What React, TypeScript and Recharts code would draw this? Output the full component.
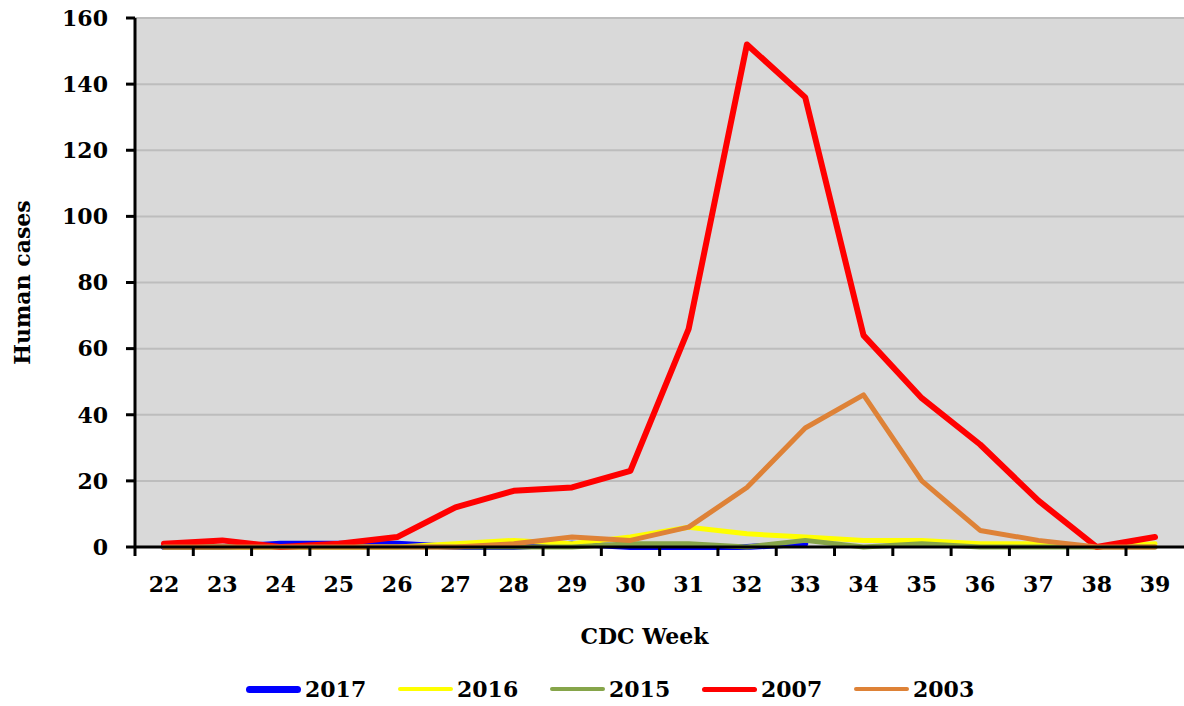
import React from 'react';
import { LineChart, Line, XAxis, YAxis, CartesianGrid, Legend } from 'recharts';

document.body.style.margin = '0';

const weeks = ['22', '23', '24', '25', '26', '27', '28', '29', '30', '31', '32', '33', '34', '35', '36', '37', '38', '39'];
const cases2017 = [0, 0, 1, 1, 1, 0, 0, 1, 0, 0, 0, 1];
const cases2016 = [0, 0, 0, 0, 0, 1, 2, 1, 3, 6, 4, 3, 2, 2, 1, 1, 0, 1];
const cases2015 = [0, 0, 0, 0, 0, 0, 0, 0, 1, 1, 0, 2, 0, 1, 0, 0, 0, 0];
const cases2007 = [1, 2, 0, 1, 3, 12, 17, 18, 23, 66, 152, 136, 64, 45, 31, 14, 0, 3];
const cases2003 = [0, 0, 0, 0, 0, 0, 1, 3, 2, 6, 18, 36, 46, 20, 5, 2, 0, 0];
const yTicks = [0, 20, 40, 60, 80, 100, 120, 140, 160];

const series = [
    { key: 'y2017', name: '2017', color: '#0000ff', width: 6, legendWidth: 7 },
    { key: 'y2016', name: '2016', color: '#ffff00', width: 5, legendWidth: 4 },
    { key: 'y2015', name: '2015', color: '#86a54a', width: 5, legendWidth: 4 },
    { key: 'y2007', name: '2007', color: '#ff0000', width: 6, legendWidth: 5 },
    { key: 'y2003', name: '2003', color: '#de8237', width: 5, legendWidth: 4 },
];

const data = weeks.map((w, i) => ({
    week: w,
    y2017: cases2017[i],
    y2016: cases2016[i],
    y2015: cases2015[i],
    y2007: cases2007[i],
    y2003: cases2003[i],
}));

const FONT = '"DejaVu Serif", serif';
const HALF_STEP = 29; // half the distance between two weeks, ticks sit between labels

// eslint-disable-next-line @typescript-eslint/no-explicit-any
const WeekTick = (props: any) => {
    const { x, y, payload } = props;
    return (
        <g>
            <line x1={x - HALF_STEP} x2={x - HALF_STEP} y1={y} y2={y + 9} stroke="#000" strokeWidth={3} />
            <text x={x} y={y + 37} textAnchor="middle" dominantBaseline="central" fontFamily={FONT} fontSize={22} fontWeight={700} fill="#000">
                {payload.value}
            </text>
        </g>
    );
};

const LegendBox = () => (
    <div style={{ display: 'flex', alignItems: 'center', height: 30 }}>
        {series.map((s) => (
            <div key={s.key} style={{ display: 'flex', alignItems: 'center', width: 152 }}>
                <div style={{ width: 55, height: s.legendWidth, background: s.color, borderRadius: 4, marginRight: 4 }} />
                <span style={{ fontFamily: FONT, fontSize: 22, fontWeight: 700, color: '#000' }}>{s.name}</span>
            </div>
        ))}
    </div>
);

export default function App() {
    return (
        <LineChart width={1184} height={706} data={data} margin={{ top: 18, right: 0, left: 0, bottom: 0 }}>
            <CartesianGrid vertical={false} fill="#d9d9d9" stroke="#bdbdbd" strokeWidth={2} />
            <XAxis
                dataKey="week"
                height={129}
                padding={{ left: HALF_STEP, right: HALF_STEP }}
                stroke="#000"
                strokeWidth={3}
                tickLine={false}
                tickSize={0}
                tickMargin={0}
                interval={0}
                tick={<WeekTick />}
                label={{
                    // eslint-disable-next-line @typescript-eslint/no-explicit-any
                    content: ({ viewBox }: any) => (
                        <text x={viewBox.x + viewBox.width / 2 - 15} y={viewBox.y + 89} textAnchor="middle" dominantBaseline="central" fontFamily={FONT} fontSize={22} fontWeight={700} fill="#000">
                            CDC Week
                        </text>
                    ),
                }}
            />
            <YAxis
                width={135}
                domain={[0, 160]}
                ticks={yTicks}
                interval={0}
                stroke="#000"
                strokeWidth={3}
                tickSize={9}
                tickMargin={18}
                tick={{ fill: '#000', fontSize: 22, fontWeight: 700, fontFamily: FONT }}
                label={{
                    // eslint-disable-next-line @typescript-eslint/no-explicit-any
                    content: ({ viewBox }: any) => {
                        const cy = viewBox.y + viewBox.height / 2;
                        return (
                            <text x={22} y={cy} transform={`rotate(-90, 22, ${cy})`} textAnchor="middle" dominantBaseline="central" fontFamily={FONT} fontSize={22} fontWeight={700} fill="#000">
                                Human cases
                            </text>
                        );
                    },
                }}
            />
            {series.map((s) => (
                <Line
                    key={s.key}
                    type="linear"
                    dataKey={s.key}
                    name={s.name}
                    stroke={s.color}
                    strokeWidth={s.width}
                    dot={false}
                    isAnimationActive={false}
                    strokeLinejoin="round"
                    strokeLinecap="round"
                />
            ))}
            <Legend verticalAlign="bottom" height={30} content={<LegendBox />} wrapperStyle={{ left: 246, bottom: 2, width: 'auto' }} />
        </LineChart>
    );
}
